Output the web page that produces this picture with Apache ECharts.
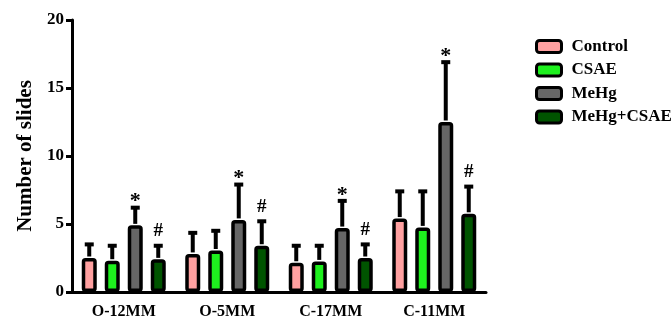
<!DOCTYPE html>
<html><head><meta charset="utf-8">
<script src="https://cdn.jsdelivr.net/npm/echarts@6/dist/echarts.min.js"></script>
<style>html,body{margin:0;padding:0;background:#fff}#c{width:672px;height:320px}</style>
</head><body><div id="c"></div>
<script>
const categories = ['O-12MM', 'O-5MM', 'C-17MM', 'C-11MM'];
const seriesNames = ['Control', 'CSAE', 'MeHg', 'MeHg+CSAE'];
const controlMean = [2.5, 2.8, 2.15, 5.4];
const controlErr  = [1.0, 1.55, 1.25, 2.0];
const csaeMean    = [2.3, 3.05, 2.25, 4.75];
const csaeErr     = [1.1, 1.45, 1.15, 2.65];
const mehgMean    = [4.9, 5.3, 4.7, 12.5];
const mehgErr     = [1.3, 2.6, 2.0, 4.4];
const comboMean   = [2.4, 3.4, 2.5, 5.75];
const comboErr    = [1.0, 1.8, 1.0, 2.0];
const mehgMarks   = ['*', '*', '*', '*'];
const comboMarks  = ['#', '#', '#', '#'];
const yTicks = [0, 5, 10, 15, 20];

const colors = ['#FFA0A0', '#1EF01E', '#666666', '#005400'];
const means = [controlMean, csaeMean, mehgMean, comboMean];
const errs = [controlErr, csaeErr, mehgErr, comboErr];
const marks = [null, null, mehgMarks, comboMarks];

const BAR_W = 15, STEP = 23;
const font = '"Liberation Serif", "Times New Roman", serif';

const series = [];
seriesNames.forEach((name, i) => {
  series.push({
    name, type: 'bar', data: means[i], barWidth: BAR_W, barGap: ((STEP - BAR_W) / BAR_W * 100) + '%',
    itemStyle: { color: colors[i], borderColor: '#000', borderWidth: 3.5, borderRadius: 2 },
    z: 2
  });
});
seriesNames.forEach((name, i) => {
  const data = categories.map((c, k) => [k, means[i][k], means[i][k] + errs[i][k], marks[i] ? marks[i][k] : '']);
  series.push({
    type: 'custom', name: name + '_err', data, z: 3, silent: true,
    renderItem: function (params, api) {
      const off = (i - 1.5) * STEP;
      const p0 = api.coord([api.value(0), api.value(1)]);
      const p1 = api.coord([api.value(0), api.value(2)]);
      const x = p0[0] + off;
      const children = [
        { type: 'line', shape: { x1: x, y1: p0[1] - 1.5, x2: x, y2: p1[1] }, style: { stroke: '#000', lineWidth: 4 } },
        { type: 'line', shape: { x1: x - 4.5, y1: p1[1], x2: x + 4.5, y2: p1[1] }, style: { stroke: '#000', lineWidth: 4 } }
      ];
      const m = data[params.dataIndex][3];
      if (m) {
        children.push({ type: 'text', style: { text: m, x: x, y: m === '*' ? p1[1] + 5 : p1[1] - 5,
          textAlign: 'center', textVerticalAlign: 'bottom', font: 'bold ' + (m === '*' ? 22 : 19) + 'px ' + font, fill: '#000' } });
      }
      return { type: 'group', children };
    }
  });
});

const chart = echarts.init(document.getElementById('c'));
chart.setOption({
  animation: false,
  grid: { left: 72, right: 186, top: 20, bottom: 25 },
  legend: {
    data: seriesNames, orient: 'vertical', left: 530, top: 33,
    itemWidth: 25, itemHeight: 12, itemGap: 6.5, icon: 'roundRect',
    itemStyle: { borderColor: '#000', borderWidth: 3 },
    textStyle: { fontFamily: font, fontWeight: 'bold', fontSize: 17, color: '#000', lineHeight: 17, padding: [0, 0, 0, 5] }
  },
  xAxis: {
    type: 'category', data: categories,
    axisLine: { lineStyle: { color: '#000', width: 3 } },
    axisTick: { show: false },
    axisLabel: { fontFamily: font, fontWeight: 'bold', fontSize: 16, color: '#000', margin: 12 }
  },
  yAxis: {
    type: 'value', min: yTicks[0], max: yTicks[yTicks.length - 1], interval: 5,
    name: 'Number of slides', nameLocation: 'middle', nameGap: 36, nameRotate: 90,
    nameTextStyle: { fontFamily: font, fontWeight: 'bold', fontSize: 21, color: '#000' },
    axisLine: { show: true, lineStyle: { color: '#000', width: 3 } },
    axisTick: { show: true, length: 6, lineStyle: { color: '#000', width: 3 } },
    splitLine: { show: false },
    axisLabel: { fontFamily: font, fontWeight: 'bold', fontSize: 17, color: '#000', margin: 8 }
  },
  series
});
</script></body></html>
